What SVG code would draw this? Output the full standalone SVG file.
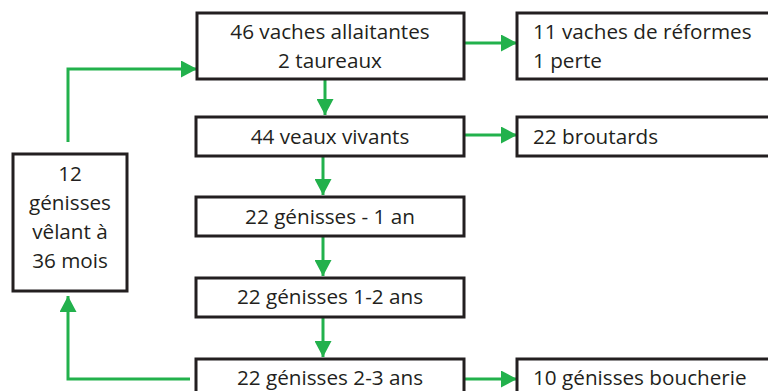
<svg xmlns="http://www.w3.org/2000/svg" width="768" height="391" viewBox="0 0 768 391">
<defs>
<style>
.box{fill:#fff;stroke:#231f20;stroke-width:3}
.t{font-family:"Open Sans",Lato,sans-serif;font-size:20.7px;fill:#231f20}
.c{text-anchor:middle}
.ln{fill:none;stroke:#22b14c;stroke-width:3}
</style>
<marker id="ah" markerUnits="userSpaceOnUse" markerWidth="16" markerHeight="17" refX="16" refY="8.5" orient="auto">
<path d="M0,0 L16,8.5 L0,17 Z" fill="#22b14c"/>
</marker>
</defs>
<rect width="768" height="391" fill="#fff"/>
<g id="connectors">
<path class="ln" d="M68,142 V69 H197" marker-end="url(#ah)"/>
<path class="ln" d="M190,379 H68 V296" marker-end="url(#ah)"/>
<path class="ln" d="M325,79 V115" marker-end="url(#ah)"/>
<path class="ln" d="M323,156 V195" marker-end="url(#ah)"/>
<path class="ln" d="M323,236 V276" marker-end="url(#ah)"/>
<path class="ln" d="M323,317 V357" marker-end="url(#ah)"/>
<path class="ln" d="M464,43 H517" marker-end="url(#ah)"/>
<path class="ln" d="M464,135 H517" marker-end="url(#ah)"/>
<path class="ln" d="M464,379 H517" marker-end="url(#ah)"/>
</g>
<g id="n_vaches">
<rect class="box" x="197" y="13" width="267" height="66"/>
<text class="t c" x="330" y="39">46 vaches allaitantes</text>
<text class="t c" x="330" y="68">2 taureaux</text>
</g>
<g id="n_reformes">
<rect class="box" x="517" y="13" width="260" height="66"/>
<text class="t" x="533" y="39">11 vaches de réformes</text>
<text class="t" x="533" y="68">1 perte</text>
</g>
<g id="n_veaux">
<rect class="box" x="196" y="117" width="268" height="39"/>
<text class="t c" x="330" y="144">44 veaux vivants</text>
</g>
<g id="n_broutards">
<rect class="box" x="517" y="117" width="260" height="39"/>
<text class="t" x="533" y="144">22 broutards</text>
</g>
<g id="n_g1">
<rect class="box" x="196" y="197" width="268" height="39"/>
<text class="t c" x="330" y="224">22 génisses - 1 an</text>
</g>
<g id="n_g2">
<rect class="box" x="196" y="278" width="268" height="39"/>
<text class="t c" x="330" y="304">22 génisses 1-2 ans</text>
</g>
<g id="n_g3">
<rect class="box" x="196" y="359" width="268" height="40"/>
<text class="t c" x="330" y="385">22 génisses 2-3 ans</text>
</g>
<g id="n_boucherie">
<rect class="box" x="517" y="359" width="260" height="40"/>
<text class="t" x="533" y="385">10 génisses boucherie</text>
</g>
<g id="n_velant">
<rect class="box" x="13" y="154" width="114" height="137"/>
<text class="t c" x="70" y="181">12</text>
<text class="t c" x="70" y="210">génisses</text>
<text class="t c" x="70" y="239">vêlant à</text>
<text class="t c" x="70" y="268">36 mois</text>
</g>
</svg>
